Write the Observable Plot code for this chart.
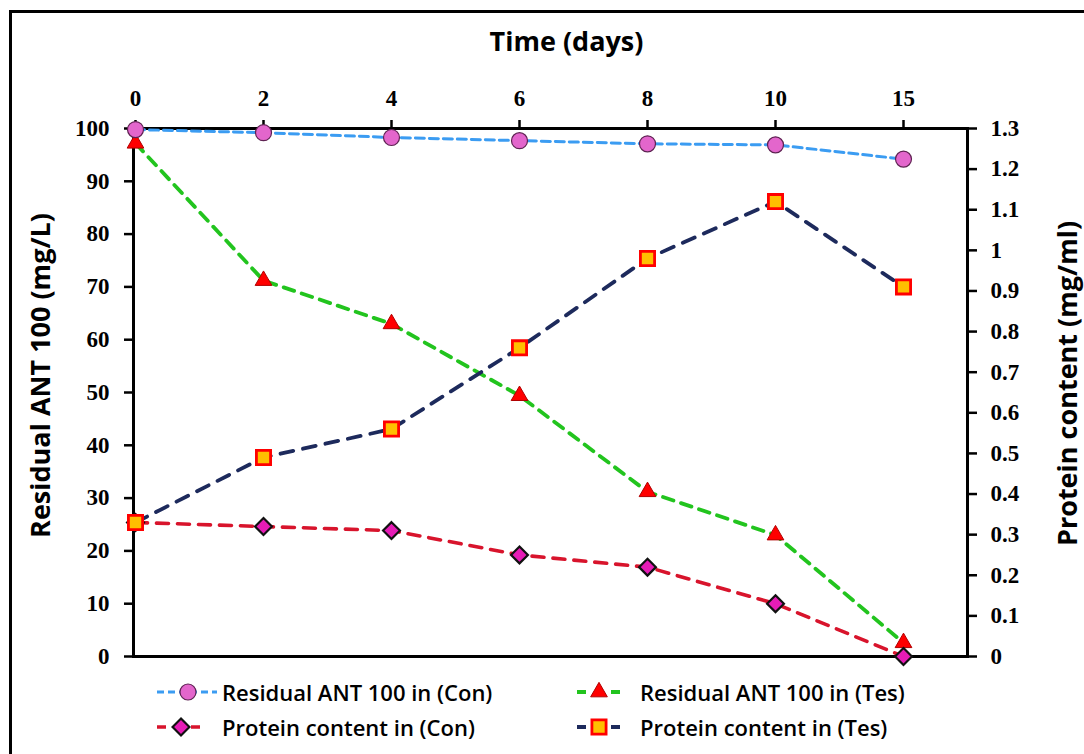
<!DOCTYPE html>
<html>
<head>
<meta charset="utf-8">
<script src="https://cdn.jsdelivr.net/npm/d3@7"></script>
<script src="https://cdn.jsdelivr.net/npm/@observablehq/plot@0.6"></script>
<style>
  html, body { margin: 0; padding: 0; background: #fff; overflow: hidden; width: 1084px; height: 754px; }
  #frame { position: absolute; left: 9px; top: 10px; width: 1200px; height: 900px; border: 3px solid #000; box-sizing: border-box; }
  #chart { position: absolute; left: 0; top: 0; }
  .leg { position: absolute; display: flex; align-items: center; font-family: "Open Sans", sans-serif; font-weight: 600; font-size: 22px; color: #000; white-space: nowrap; }
  .leg svg { display: block; }
</style>
</head>
<body>
<div id="frame"></div>
<div id="chart"></div>
<div id="legend"></div>
<script>
// ---- data ----
const days = ["0", "2", "4", "6", "8", "10", "15"];
const residualCon = [99.8, 99.2, 98.3, 97.7, 97.1, 96.9, 94.2];
const residualTes = [97.2, 71.2, 63.0, 49.4, 31.2, 23.0, 2.6];
const proteinCon = [0.33, 0.32, 0.31, 0.25, 0.22, 0.13, 0.0];
const proteinTes = [0.33, 0.49, 0.56, 0.76, 0.98, 1.12, 0.91];
const leftTicks = [0, 10, 20, 30, 40, 50, 60, 70, 80, 90, 100];
const rightTicks = [0, 0.1, 0.2, 0.3, 0.4, 0.5, 0.6, 0.7, 0.8, 0.9, 1, 1.1, 1.2, 1.3];
const seriesNames = ["Residual ANT 100 in (Con)", "Residual ANT 100 in (Tes)", "Protein content in (Con)", "Protein content in (Tes)"];
const xTitle = "Time (days)";
const yLeftTitle = "Residual ANT 100 (mg/L)";
const yRightTitle = "Protein content (mg/ml)";

// ---- styles ----
const K = 100 / 1.3; // right axis (0..1.3) mapped onto left axis (0..100)
const rows = (vals, f = 1) => days.map((d, i) => ({day: d, v: vals[i] * f}));
const sty = {
  rc: {line: "#3b9cf2", w: 3, dash: "9,5", symbol: "circle", r: 8, fill: "#e366cc", stroke: "#5e2352", sw: 1.2},
  rt: {line: "#22c41e", w: 3.8, dash: "11,8", symbol: "triangle", r: 6.2, fill: "#ff0000", stroke: "#b00000", sw: 1},
  pc: {line: "#d8142c", w: 3.6, dash: "12,9", symbol: "diamond2", r: 7.6, fill: "#e61cb6", stroke: "#111", sw: 2.2},
  pt: {line: "#1d2a5c", w: 3.8, dash: "13,10", symbol: "square", r: 8, fill: "#ffbf00", stroke: "#ff0000", sw: 2.8}
};
const sData = {rc: rows(residualCon), rt: rows(residualTes), pc: rows(proteinCon, K), pt: rows(proteinTes, K)};
const lineMark = (key) => Plot.line(sData[key], {x: "day", y: "v", stroke: sty[key].line, strokeWidth: sty[key].w, strokeDasharray: sty[key].dash});
const dotMark = (key) => Plot.dot(sData[key], {x: "day", y: "v", symbol: () => sty[key].symbol, r: sty[key].r, fill: sty[key].fill, stroke: sty[key].stroke, strokeWidth: sty[key].sw});

const tickFont = {fontFamily: "'Liberation Serif', 'Times New Roman', serif", fontWeight: "bold", fontSize: 23};
const titleFont = {fontFamily: "'Open Sans', sans-serif", fontWeight: "bold", fontSize: 27, fill: "#000", textAnchor: "middle", lineAnchor: "middle"};

const chart = Plot.plot({
  width: 1084,
  height: 670,
  marginLeft: 133,
  marginRight: 117,
  marginTop: 128,
  marginBottom: 14,
  style: {background: "transparent", color: "#000", overflow: "visible"},
  x: {type: "point", domain: days, range: [133, 904], padding: 0, label: null},
  y: {domain: [0, 100], label: null},
  symbol: {type: "identity"},
  marks: [
    Plot.axisX({anchor: "top", tickSize: 9, tickPadding: 14, strokeWidth: 2.5, label: null, ...tickFont}),
    Plot.axisY({ticks: leftTicks, anchor: "left", tickSize: 9, tickPadding: 15, strokeWidth: 2.5, label: null, ...tickFont}),
    Plot.axisY({ticks: rightTicks.map(t => t * K), anchor: "right", tickSize: 9, tickPadding: 14, strokeWidth: 2.5, label: null,
      tickFormat: d => String(+(d / K).toFixed(1)), ...tickFont}),
    Plot.frame({stroke: "#000", strokeWidth: 3}),
    Plot.text([xTitle], {frameAnchor: "top", dx: 16, dy: -86, text: d => d, ...titleFont}),
    Plot.text([yLeftTitle], {frameAnchor: "left", dx: -92, dy: -17, rotate: -90, text: d => d, ...titleFont}),
    Plot.text([yRightTitle], {frameAnchor: "right", dx: 101, dy: -9, rotate: -90, text: d => d, ...titleFont}),
    lineMark("rc"), lineMark("rt"), lineMark("pc"), lineMark("pt"),
    dotMark("rt"), dotMark("rc"), dotMark("pc"), dotMark("pt")
  ]
});
document.getElementById("chart").appendChild(chart);

// ---- legend ----
const legendPos = [
  {key: "rc", left: 155, top: 677, sw: 64, mk: 33, gap: 3},
  {key: "rt", left: 575, top: 677, sw: 48, mk: 24, gap: 17},
  {key: "pc", left: 155, top: 712, sw: 48, mk: 26, gap: 19},
  {key: "pt", left: 575, top: 712, sw: 48, mk: 24, gap: 17}
];
const legend = d3.select("#legend");
legendPos.forEach((p, i) => {
  const s = sty[p.key];
  const item = legend.append("div").attr("class", "leg").style("left", p.left + "px").style("top", p.top + "px").style("gap", p.gap + "px");
  const svg = item.append("svg").attr("width", p.sw).attr("height", 30);
  svg.append("line").attr("x1", 2).attr("x2", p.sw - 2).attr("y1", 15).attr("y2", 15)
    .attr("stroke", s.line).attr("stroke-width", s.w).attr("stroke-dasharray", p.key === "rc" ? "7,4" : "9,25");
  const sym = {circle: d3.symbolCircle, triangle: d3.symbolTriangle, diamond2: d3.symbolDiamond2, square: d3.symbolSquare}[s.symbol];
  svg.append("path").attr("transform", `translate(${p.mk},15)`)
    .attr("d", d3.symbol(sym, Math.PI * s.r * s.r)())
    .attr("fill", s.fill).attr("stroke", s.stroke).attr("stroke-width", s.sw);
  item.append("span").text(seriesNames[i]);
});
</script>
</body>
</html>
